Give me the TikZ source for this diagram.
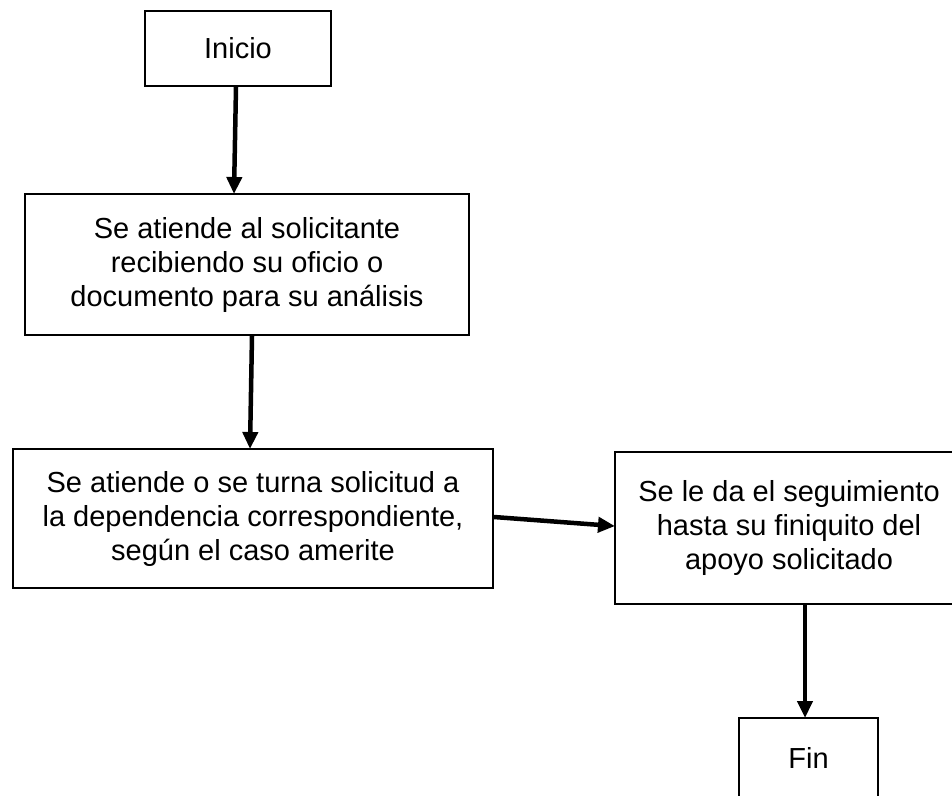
\documentclass[tikz,border=0pt]{standalone}
\usepackage{fontspec}
\setmainfont{Liberation Sans}
\usetikzlibrary{arrows.meta}
\tikzset{
  x=1pt, y=1pt,
  box/.style={draw=black, line width=2pt, fill=white, align=center, inner sep=0pt,
    font=\fontsize{29}{34}\selectfont},
  arr/.style={line width=4.5pt, -{Triangle[length=17pt,width=15pt]}, shorten >=-1pt}
}
\begin{document}
\begin{tikzpicture}
\clip (0,0) rectangle (952,-795);
\fill[white] (0,0) rectangle (952,-795);
\node[box, minimum width=186pt, minimum height=75pt] (inicio) at (238,-48.5) {Inicio};
\node[box, minimum width=444pt, minimum height=141pt] (b2) at (247,-264.5)
  {Se atiende al solicitante\\recibiendo su oficio o\\documento para su análisis};
\node[box, minimum width=480pt, minimum height=139pt] (b3) at (253,-518.5)
  {Se atiende o se turna solicitud a\\la dependencia correspondiente,\\según el caso amerite};
\node[box, minimum width=348pt, minimum height=152pt] (b4) at (789,-528)
  {Se le da el seguimiento\\hasta su finiquito del\\apoyo solicitado};
\node[box, minimum width=139pt, minimum height=80pt] (fin) at (808.5,-758) {Fin};
\draw[arr] ([xshift=-2pt]inicio.south) -- ([xshift=-13pt]b2.north);
\draw[arr] ([xshift=5pt]b2.south) -- ([xshift=-3pt]b3.north);
\draw[arr] ([yshift=1.5pt]b3.east) -- ([yshift=2pt]b4.west);
\draw[arr] ([xshift=16pt]b4.south) -- ([xshift=-3.5pt]fin.north);
\end{tikzpicture}
\end{document}
